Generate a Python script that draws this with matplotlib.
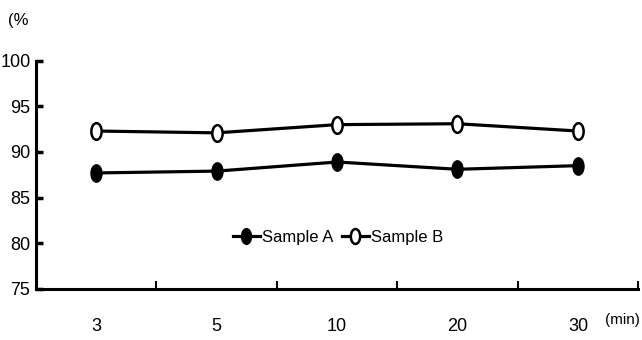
import numpy as np
import matplotlib
matplotlib.use("Agg")
import matplotlib.pyplot as plt
from matplotlib.path import Path
from matplotlib.transforms import Affine2D

plt.rcParams['font.family'] = ['Liberation Sans Narrow', 'Liberation Sans', 'DejaVu Sans']

# data
times = ['3', '5', '10', '20', '30']
sample_a = [87.7, 87.9, 88.9, 88.1, 88.5]
sample_b = [92.3, 92.1, 93.0, 93.1, 92.3]
y_ticks = [75, 80, 85, 90, 95, 100]

# tall ellipse marker (the original is squeezed sideways)
ellipse = Path.unit_circle().transformed(Affine2D().scale(0.62, 1.0))

fig = plt.figure(figsize=(6.42, 3.4), dpi=100)
ax = fig.add_axes([0.056, 0.151, 0.938, 0.670])

x = np.arange(len(times))
ax.plot(x, sample_a, color='black', lw=2.3, marker=ellipse, ms=12,
        mfc='black', mec='black', mew=1.5, label='Sample A')
ax.plot(x, sample_b, color='black', lw=2.3, marker=ellipse, ms=12,
        mfc='white', mec='black', mew=1.8, label='Sample B')

ax.set_xlim(-0.5, len(times) - 0.5)
ax.set_ylim(75, 100)
ax.set_yticks(y_ticks)
ax.set_yticklabels([str(v) for v in y_ticks], fontsize=13)
ax.set_xticks(x)
ax.set_xticklabels(times, fontsize=13)
ax.set_xticks(np.arange(len(times)) + 0.5, minor=True)
ax.tick_params(axis='x', which='major', length=0, pad=21)
ax.tick_params(axis='x', which='minor', direction='in', length=6, width=1.5)
ax.tick_params(axis='y', direction='in', length=5, width=2.5, pad=4)

for s in ['top', 'right']:
    ax.spines[s].set_visible(False)
for s in ['left', 'bottom']:
    ax.spines[s].set_linewidth(2.2)

ax.legend(loc='center', bbox_to_anchor=(0.502, 0.226), frameon=False,
          ncol=2, fontsize=12, handlelength=1.6, handletextpad=0.15,
          columnspacing=0.5, markerscale=0.9)

fig.text(0.012, 0.94, '(%', fontsize=12, ha='left', va='center')
fig.text(0.997, 0.06, '(min)', fontsize=11, ha='right', va='center')

fig.savefig('out.png', dpi=100)
